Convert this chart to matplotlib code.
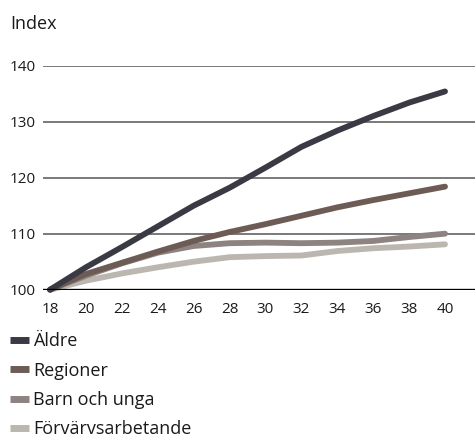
"""Index curves by age for four groups, drawn as a simple line chart."""

import matplotlib.pyplot as plt
from matplotlib.lines import Line2D

plt.rcParams["font.family"] = ["Open Sans", "DejaVu Sans"]

AGES = [18, 20, 22, 24, 26, 28, 30, 32, 34, 36, 38, 40]

ALDRE = [100, 104.0, 107.6, 111.3, 115.0, 118.2, 121.8, 125.5, 128.4, 131.0, 133.4, 135.4]
REGIONER = [100, 102.8, 104.8, 106.8, 108.7, 110.3, 111.7, 113.2, 114.7, 116.0, 117.2, 118.4]
BARN_UNGA = [100, 102.5, 104.7, 106.6, 107.8, 108.3, 108.4, 108.3, 108.4, 108.7, 109.4, 110.0]
FORVARV = [100, 101.6, 102.9, 104.0, 105.0, 105.8, 106.0, 106.1, 106.9, 107.4, 107.7, 108.1]

SERIES = [
    ("Äldre", ALDRE, "#393a44"),
    ("Regioner", REGIONER, "#6d5c55"),
    ("Barn och unga", BARN_UNGA, "#8d8380"),
    ("Förvärvsarbetande", FORVARV, "#bcb6b0"),
]

Y_TICKS = [100, 110, 120, 130, 140]
X_TICKS = list(range(18, 41, 2))


def main() -> None:
    fig = plt.figure(figsize=(4.75, 4.36), dpi=100)
    ax = fig.add_axes([0.0899, 0.3356, 0.9101, 0.5138])

    # horizontal grid; the baseline at 100 is drawn heavier in black
    for y in Y_TICKS[1:]:
        ax.axhline(y, color="#6e6e6e", lw=1.3, zorder=1)
    ax.axhline(100, color="black", lw=2.4, zorder=4)

    # draw lightest series first so darker ones sit on top
    for label, values, color in reversed(SERIES):
        ax.plot(AGES, values, color=color, lw=4.2, solid_capstyle="round",
                solid_joinstyle="round", clip_on=False, zorder=3)

    ax.set_xlim(17.59, 41.67)
    ax.set_ylim(100, 140)
    ax.set_xticks(X_TICKS)
    ax.set_yticks(Y_TICKS)
    ax.tick_params(axis="both", length=0, labelsize=11, colors="#1a1a1a")
    ax.tick_params(axis="x", pad=9)
    ax.tick_params(axis="y", pad=5)
    for spine in ax.spines.values():
        spine.set_visible(False)

    fig.text(0.021, 0.945, "Index", fontsize=13, color="#1a1a1a",
             ha="left", va="center")

    handles = [Line2D([], [], color=c, lw=5, solid_capstyle="butt")
               for _, _, c in SERIES]
    labels = [s[0] for s in SERIES]
    fig.legend(handles, labels, loc="upper left",
               bbox_to_anchor=(0.005, 0.254), frameon=False, fontsize=13,
               handlelength=1.1, handletextpad=0.2, labelspacing=0.62,
               borderaxespad=0, labelcolor="#1a1a1a")

    fig.savefig("out.png", dpi=100)
    plt.close(fig)


if __name__ == "__main__":
    main()
